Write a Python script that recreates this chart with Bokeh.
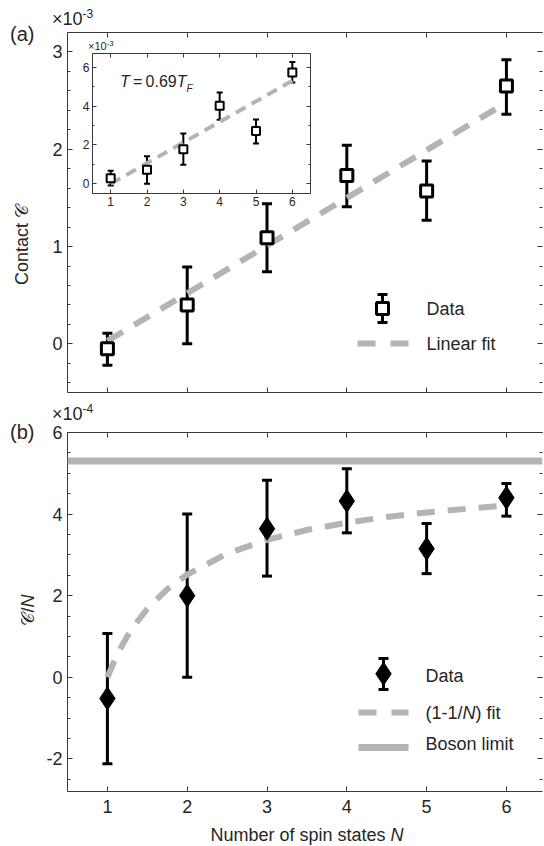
import math
from bokeh.plotting import figure
from bokeh.models import (ColumnDataSource, Whisker, TeeHead, Label, LinearAxis, FixedTicker,
                          Range1d, Arrow, BoxAnnotation, PolyAnnotation, Span, Div,
                          CustomJSTickFormatter)
from bokeh.layouts import column
from bokeh.embed import file_html
from bokeh.resources import INLINE

# ---------------- data ----------------
N = [1, 2, 3, 4, 5, 6]
# panel (a): contact C, units of 1e-3
contact = [-0.05, 0.40, 1.09, 1.73, 1.57, 2.65]
contact_lo = [-0.22, 0.00, 0.74, 1.41, 1.27, 2.36]
contact_hi = [0.11, 0.79, 1.44, 2.04, 1.88, 2.92]
fit_N = [1, 6]
fit_contact = [0.03, 2.48]
# inset (T = 0.69 T_F): contact, units of 1e-3
inset_contact = [0.29, 0.72, 1.78, 4.01, 2.71, 5.72]
inset_lo = [-0.09, 0.00, 0.98, 3.29, 2.07, 5.21]
inset_hi = [0.67, 1.42, 2.59, 4.70, 3.31, 6.26]
inset_fit_N = [1, 6]
inset_fit = [0.0, 5.3]
# panel (b): C/N, units of 1e-4
per_N = [-0.52, 2.00, 3.64, 4.32, 3.15, 4.40]
per_N_lo = [-2.12, 0.00, 2.48, 3.54, 2.54, 3.95]
per_N_hi = [1.07, 4.00, 4.83, 5.11, 3.77, 4.75]
curve_N = [1, 1.1, 1.2, 1.3, 1.5, 1.75, 2, 2.5, 3, 3.5, 4, 4.5, 5, 5.5, 6]
curve_val = [0.0, 0.46, 0.84, 1.17, 1.68, 2.16, 2.52, 3.03, 3.37, 3.61, 3.79, 3.93, 4.04, 4.13, 4.21]
boson_limit = 5.3

x_ticks = [1, 2, 3, 4, 5, 6]
a_ticks = [0, 1, 2, 3]
b_ticks = [-2, 0, 2, 4, 6]
inset_ticks = [0, 2, 4, 6]

# ---------------- style ----------------
FONT = "Liberation Sans"
AX = "#3a3a3a"
TXT = "#262626"
GRAY = "#b4b4b4"
LEFT_BORDER = 67
RIGHT_BORDER = 2


def cfg_axis(ax, ticks, minor=(), labels=True, size="18px", line=True, tin=5, min_in=3, standoff=5):
    ax.ticker = FixedTicker(ticks=list(ticks), minor_ticks=list(minor))
    ax.major_tick_in = tin
    ax.major_tick_out = 0
    ax.minor_tick_in = min_in
    ax.minor_tick_out = 0
    ax.axis_line_color = AX if line else None
    ax.major_tick_line_color = AX
    ax.minor_tick_line_color = AX
    ax.major_label_text_font = FONT
    ax.major_label_text_color = TXT
    if labels:
        ax.major_label_text_font_size = size
        ax.major_label_standoff = standoff
        ax.major_label_overrides = {t: str(t).replace("\u2212", "-") for t in ticks if t < 0}
    else:
        ax.formatter = CustomJSTickFormatter(code="return ''")
        ax.major_label_text_font_size = "1px"
        ax.major_label_standoff = 0


def box_axes(p, xt, yt, ymin, labels_x=True, size="18px", tin=5, min_in=3, standoff=5,
             xstandoff=None):
    bottom = p.below[0]
    left = p.left[0]
    cfg_axis(bottom, xt, (), labels=labels_x, size=size, tin=tin, min_in=min_in,
             standoff=xstandoff if xstandoff is not None else standoff)
    cfg_axis(left, yt, ymin, size=size, tin=tin, min_in=min_in, standoff=standoff)
    top = LinearAxis()
    right = LinearAxis()
    p.add_layout(top, "above")
    p.add_layout(right, "right")
    cfg_axis(top, xt, (), labels=False, tin=tin, min_in=min_in)
    cfg_axis(right, yt, ymin, labels=False, line=False, tin=tin, min_in=min_in)


def lab(p, x, y, text, size="18px", style="normal"):
    p.add_layout(Label(x=x, y=y, x_units="screen", y_units="screen", text=text,
                       text_font=FONT, text_font_size=size, text_font_style=style,
                       text_color=TXT, text_baseline="middle", text_align="left"))


def base_fig(fw, fh, xr, yr, **kw):
    p = figure(frame_width=fw, frame_height=fh, x_range=xr, y_range=yr, output_backend="svg",
               toolbar_location=None, title=None, min_border_left=LEFT_BORDER,
               min_border_right=RIGHT_BORDER, **kw)
    p.grid.visible = False
    p.outline_line_color = None
    p.background_fill_color = "white"
    return p


def div(html, left, top, w, h, size, rotate=False, align="left"):
    st = {"position": "absolute", "left": f"{left}px", "top": f"{top}px",
          "width": f"{w}px", "height": f"{h}px", "line-height": f"{h}px",
          "font-family": FONT, "font-size": size, "color": TXT,
          "white-space": "nowrap", "text-align": align, "z-index": "20"}
    if rotate:
        st["transform"] = "rotate(-90deg)"
        st["transform-origin"] = "center center"
    return Div(text=html, width=w, height=h, styles=st, margin=0)

# ---------------- panel (a) ----------------
p1 = base_fig(475, 360, Range1d(0.5, 6.452), Range1d(-0.5, 3.2),
              min_border_top=32, min_border_bottom=8)
a_minor = [round(-0.4 + 0.2 * i, 1) for i in range(19)]
box_axes(p1, x_ticks, a_ticks, a_minor, labels_x=False)

p1.line(fit_N, fit_contact, line_color=GRAY, line_width=6, line_dash="18 13")
src_a = ColumnDataSource(dict(x=N, y=contact, lo=contact_lo, hi=contact_hi))
p1.add_layout(Whisker(source=src_a, base="x", upper="hi", lower="lo", line_width=3,
                      line_color="black", level="underlay",
                      upper_head=TeeHead(size=10, line_width=3, line_color="black"),
                      lower_head=TeeHead(size=10, line_width=3, line_color="black")))
p1.scatter("x", "y", source=src_a, marker="square", size=12, fill_color="white",
           line_color="black", line_width=3)

# legend (a), positioned in screen units relative to the frame
p1.add_layout(Arrow(x_start=315, y_start=70, x_end=315, y_end=98, start_units="screen",
                    end_units="screen", line_width=3, line_color="black",
                    start=TeeHead(size=10, line_width=3, line_color="black"),
                    end=TeeHead(size=10, line_width=3, line_color="black")))
p1.add_layout(BoxAnnotation(left=309, right=321, bottom=78, top=90, left_units="screen",
                            right_units="screen", top_units="screen", bottom_units="screen",
                            fill_color="white", fill_alpha=1, line_color="black",
                            line_width=3, line_alpha=1))
p1.add_layout(Arrow(x_start=290, y_start=49, x_end=341, y_end=49, start_units="screen",
                    end_units="screen", end=None, line_color=GRAY, line_width=6,
                    line_dash="18 15"))
lab(p1, 359, 84, "Data")
lab(p1, 359, 49, "Linear fit")

# ---------------- panel (b) ----------------
p2 = base_fig(475, 359, Range1d(0.5, 6.452), Range1d(-2.8, 6.0),
              min_border_top=32, min_border_bottom=55)
b_minor = [-2.5 + 0.5 * i for i in range(18)]
box_axes(p2, x_ticks, b_ticks, b_minor, xstandoff=8)

p2.line(curve_N, curve_val, line_color=GRAY, line_width=6, line_dash="18 13")
p2.add_layout(Span(location=boson_limit, dimension="width", line_color=GRAY, line_width=7))
src_b = ColumnDataSource(dict(x=N, y=per_N, lo=per_N_lo, hi=per_N_hi))
p2.add_layout(Whisker(source=src_b, base="x", upper="hi", lower="lo", line_width=3,
                      line_color="black", level="underlay",
                      upper_head=TeeHead(size=10, line_width=3, line_color="black"),
                      lower_head=TeeHead(size=10, line_width=3, line_color="black")))
p2.scatter("x", "y", source=src_b, marker="diamond", size=23, fill_color="black",
           line_color="black", line_width=1)

# legend (b)
p2.add_layout(Arrow(x_start=316, y_start=102, x_end=316, y_end=133, start_units="screen",
                    end_units="screen", line_width=3, line_color="black",
                    start=TeeHead(size=10, line_width=3, line_color="black"),
                    end=TeeHead(size=10, line_width=3, line_color="black")))
p2.add_layout(PolyAnnotation(xs=[316, 323.7, 316, 308.3], ys=[129.2, 117.7, 106.2, 117.7],
                             xs_units="screen", ys_units="screen", fill_color="black",
                             fill_alpha=1, line_color="black", line_alpha=1))
p2.add_layout(Arrow(x_start=291, y_start=79, x_end=341, y_end=79, start_units="screen",
                    end_units="screen", end=None, line_color=GRAY, line_width=6,
                    line_dash="18 15"))
p2.add_layout(Arrow(x_start=291, y_start=44, x_end=341, y_end=44, start_units="screen",
                    end_units="screen", end=None, line_color=GRAY, line_width=7))
lab(p2, 358, 116, "Data")
lab(p2, 358, 79, "(1-1/")
lab(p2, 395, 79, "N", style="italic")
lab(p2, 408, 79, ") fit")
lab(p2, 358, 48, "Boson limit")

# ---------------- inset ----------------
inset = base_fig(218, 140, Range1d(0.5, 6.5), Range1d(-0.5, 6.7),
                 min_border_top=14, min_border_bottom=22)
inset.border_fill_alpha = 0
inset.outline_line_color = AX
box_axes(inset, x_ticks, inset_ticks, [1, 3, 5], size="12px", tin=4, min_in=2, standoff=3)
inset.styles = {"position": "absolute", "left": f"{92 - LEFT_BORDER}px", "top": "39px",
                "z-index": "10"}

inset.line(inset_fit_N, inset_fit, line_color=GRAY, line_width=4, line_dash="11 7")
src_i = ColumnDataSource(dict(x=N, y=inset_contact, lo=inset_lo, hi=inset_hi))
inset.add_layout(Whisker(source=src_i, base="x", upper="hi", lower="lo", line_width=2,
                         line_color="black", level="underlay",
                         upper_head=TeeHead(size=6, line_width=2, line_color="black"),
                         lower_head=TeeHead(size=6, line_width=2, line_color="black")))
inset.scatter("x", "y", source=src_i, marker="square", size=8, fill_color="white",
              line_color="black", line_width=2)

# ---------------- texts outside the frames ----------------
sup = "<span style='font-size:{s};position:relative;top:{t}px'>{x}</span>"
texts = [
    div("(a)", 10, 22, 40, 24, "20px"),
    div("\u00d710" + sup.format(s="12px", t=-7, x="-3"), 52, 8, 60, 22, "18px"),
    div("Contact \U0001D49E", -33, 234, 110, 22, "18px", rotate=True, align="center"),
    div("(b)", 10, 420, 40, 24, "20px"),
    div("\u00d710" + sup.format(s="12px", t=-7, x="-4"), 52, 403, 60, 22, "18px"),
    div("\U0001D49E/<i>N</i>", -2, 599, 60, 22, "18px", rotate=True, align="center"),
    div("Number of spin states <i>N</i>", 157, 825, 300, 20, "18px", align="center"),
    div("\u00d710" + sup.format(s="8px", t=-4, x="-3"), 88, 39, 40, 14, "11px"),
    div("<i>T</i>&thinsp;=&thinsp;0.69<i>T</i>"
        "<span style='font-size:10px;font-style:italic;position:relative;top:5px'>F</span>",
        120, 72, 90, 20, "16px"),
]

layout = column(p1, p2, inset, *texts)
layout.styles = {"position": "relative"}

open("out.html", "w").write(file_html(layout, INLINE))
